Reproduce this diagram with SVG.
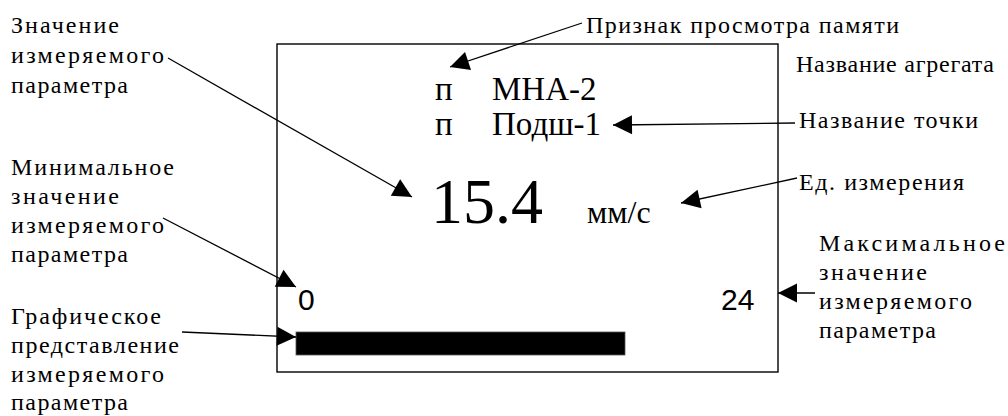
<svg xmlns="http://www.w3.org/2000/svg" width="1008" height="416" viewBox="0 0 1008 416">
<style>
.lbl{font-family:"Liberation Serif","Times New Roman",serif;font-size:24px;fill:#000;}
.disp{font-family:"Liberation Serif","Times New Roman",serif;fill:#000;}
.num{font-family:"Liberation Sans",Arial,sans-serif;font-size:30px;fill:#000;}
.con{stroke:#000;stroke-width:1.3;fill:none;marker-end:url(#ah);}
</style>
<defs>
<marker id="ah" markerUnits="userSpaceOnUse" markerWidth="22" markerHeight="22" viewBox="-21 -11 22 22" refX="0" refY="0" orient="auto">
<path d="M0,0 L-19,-9.5 L-19,9.5 Z" fill="#000"/>
</marker>
</defs>
<rect width="1008" height="416" fill="#fff"/>

<g id="display">
<rect x="277" y="44" width="501" height="328" fill="#fff" stroke="#000" stroke-width="1.4"/>
<text class="disp" x="435" y="100" font-size="33">п</text>
<text class="disp" x="492" y="100" font-size="33">МНА-2</text>
<text class="disp" x="435" y="135" font-size="33">п</text>
<text class="disp" x="492" y="135" font-size="33">Подш-1</text>
<text class="disp" x="431" y="223" font-size="64">15.4</text>
<text class="disp" x="587" y="223" font-size="32">мм/с</text>
<text class="num" x="298" y="310">0</text>
<text class="num" x="721" y="310">24</text>
<rect x="296" y="332" width="329" height="23" fill="#000" stroke="#555" stroke-width="0.8"/>
</g>

<g id="label-value">
<text class="lbl" x="11" y="33" textLength="108" lengthAdjust="spacing">Значение</text>
<text class="lbl" x="11" y="63" textLength="153" lengthAdjust="spacing">измеряемого</text>
<text class="lbl" x="11" y="93" textLength="117" lengthAdjust="spacing">параметра</text>
</g>

<g id="label-memory">
<text class="lbl" x="586" y="33" textLength="313" lengthAdjust="spacing">Признак просмотра памяти</text>
</g>

<g id="label-unit-name">
<text class="lbl" x="796" y="72" textLength="198" lengthAdjust="spacing">Название агрегата</text>
</g>

<g id="label-point">
<text class="lbl" x="799" y="128" textLength="179" lengthAdjust="spacing">Название точки</text>
</g>

<g id="label-units">
<text class="lbl" x="799" y="190" textLength="165" lengthAdjust="spacing">Ед. измерения</text>
</g>

<g id="label-min">
<text class="lbl" x="11" y="175" textLength="163" lengthAdjust="spacing">Минимальное</text>
<text class="lbl" x="11" y="204" textLength="108" lengthAdjust="spacing">значение</text>
<text class="lbl" x="11" y="233" textLength="153" lengthAdjust="spacing">измеряемого</text>
<text class="lbl" x="11" y="262" textLength="117" lengthAdjust="spacing">параметра</text>
</g>

<g id="label-max">
<text class="lbl" x="819" y="251" textLength="186" lengthAdjust="spacing">Максимальное</text>
<text class="lbl" x="819" y="280" textLength="108" lengthAdjust="spacing">значение</text>
<text class="lbl" x="819" y="309" textLength="153" lengthAdjust="spacing">измеряемого</text>
<text class="lbl" x="819" y="338" textLength="117" lengthAdjust="spacing">параметра</text>
</g>

<g id="label-graph">
<text class="lbl" x="11" y="324" textLength="150" lengthAdjust="spacing">Графическое</text>
<text class="lbl" x="11" y="353" textLength="168" lengthAdjust="spacing">представление</text>
<text class="lbl" x="11" y="382" textLength="153" lengthAdjust="spacing">измеряемого</text>
<text class="lbl" x="11" y="410" textLength="117" lengthAdjust="spacing">параметра</text>
</g>

<g id="connectors">
<line class="con" x1="582" y1="23" x2="450" y2="67"/>
<line class="con" x1="795" y1="123" x2="613" y2="125"/>
<line class="con" x1="168" y1="58" x2="412" y2="197"/>
<line class="con" x1="797" y1="178" x2="681" y2="203"/>
<line class="con" x1="163" y1="218" x2="296" y2="287"/>
<line class="con" x1="182" y1="332" x2="296" y2="337"/>
<line class="con" x1="815" y1="293" x2="778" y2="293"/>
</g>
</svg>
